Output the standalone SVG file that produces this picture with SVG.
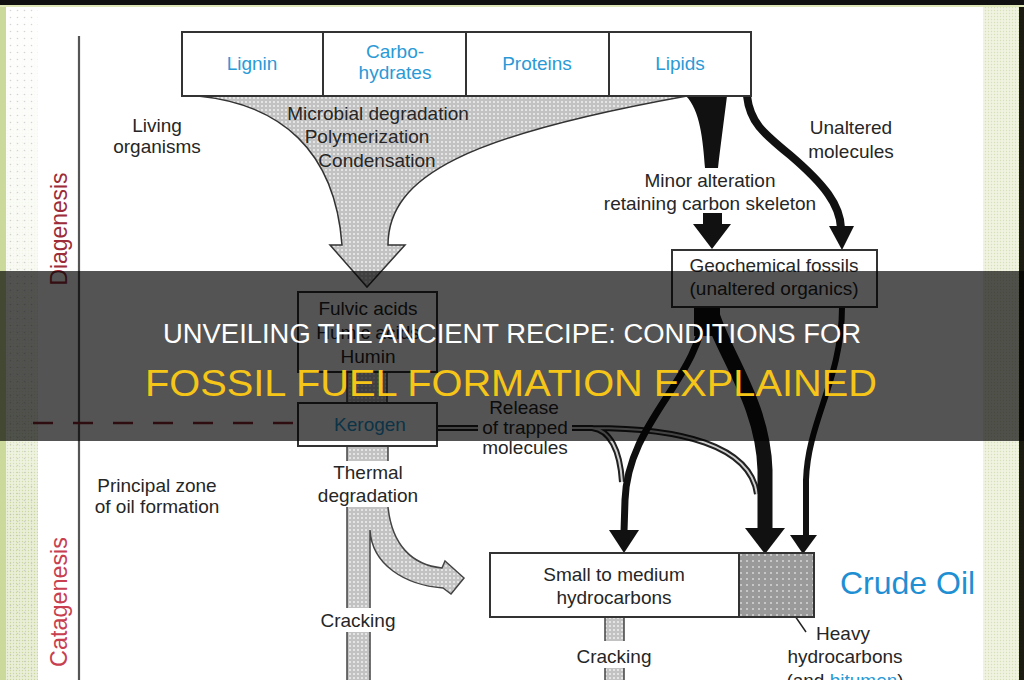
<svg xmlns="http://www.w3.org/2000/svg" width="1024" height="680" viewBox="0 0 1024 680">
<defs>
<pattern id="dots" width="4" height="4" patternUnits="userSpaceOnUse"><rect width="4" height="4" fill="#c2c2c2"/><circle cx="2" cy="2" r="1" fill="#f0f0f0"/></pattern>
<pattern id="dotsDark" width="6" height="6" patternUnits="userSpaceOnUse"><rect width="6" height="6" fill="#9a9a9a"/><circle cx="3" cy="3" r="1" fill="#d6d6d6"/></pattern>
<pattern id="edgeDots" width="7" height="7" patternUnits="userSpaceOnUse"><rect width="7" height="7" fill="none"/><circle cx="3.5" cy="3.5" r="0.8" fill="#b8b8b8"/></pattern>
<pattern id="greenDots" width="3" height="3" patternUnits="userSpaceOnUse"><rect width="3" height="3" fill="#e9efd6"/><circle cx="1.5" cy="1.5" r="0.7" fill="#c9d6a0"/></pattern>
<linearGradient id="leftFade" x1="0" y1="0" x2="0" y2="1"><stop offset="0" stop-color="#fff" stop-opacity="1"/><stop offset="0.55" stop-color="#fff" stop-opacity="0.6"/><stop offset="0.75" stop-color="#fff" stop-opacity="0"/></linearGradient>
</defs>
<style>
.t{font-family:"Liberation Sans",Arial,sans-serif;font-size:19px;fill:#262626;text-anchor:middle}
.b{fill:#2a9ad6}
.box{fill:#fff;stroke:#333;stroke-width:2}
.gray{fill:url(#dots);stroke:none}
.edge{fill:none;stroke:#444;stroke-width:1.5}
.blk{fill:none;stroke:#111;stroke-linecap:butt}
.head{fill:#111}
.tube{fill:none;stroke:#222;stroke-width:6}
.tubeIn{fill:none;stroke:#cfcfcf;stroke-width:2}
.stage{font-family:"Liberation Sans",Arial,sans-serif;font-size:24px;text-anchor:middle}
</style>
<rect x="0" y="0" width="1024" height="680" fill="#fff"/>

<!-- side strips -->
<g id="frame">
<rect x="0" y="0" width="38" height="680" fill="url(#greenDots)"/>
<rect x="0" y="0" width="38" height="680" fill="url(#leftFade)"/>
<rect x="6" y="0" width="32" height="680" fill="url(#edgeDots)" opacity="0.6"/>
<rect x="0" y="0" width="6" height="680" fill="#cbd99a"/>
<line x1="79" y1="36" x2="79" y2="680" stroke="#555" stroke-width="2.2"/>
</g>

<g id="stage-labels">
<text class="stage" transform="translate(67,229) rotate(-90)" fill="#9c2c38" textLength="113" lengthAdjust="spacingAndGlyphs">Diagenesis</text>
<text class="stage" transform="translate(67,602) rotate(-90)" fill="#c8404f" textLength="130" lengthAdjust="spacingAndGlyphs">Catagenesis</text>
<line x1="33" y1="423" x2="296" y2="423" stroke="#8b2a35" stroke-width="2.5" stroke-dasharray="20 20"/>
</g>

<g id="side-notes">
<text class="t" x="157" y="132">Living</text>
<text class="t" x="157" y="153">organisms</text>
<text class="t" x="157" y="492">Principal zone</text>
<text class="t" x="157" y="513">of oil formation</text>
</g>

<g id="connectors">
<!-- main gray funnel -->
<path d="M198,96 L687,96 C470,135 388,175 388,245 L405,245 L367,287 L330,245 L342,245 C335,150 280,104 198,96 Z" fill="url(#dots)" stroke="#333" stroke-width="1.5"/>
<!-- lipids black funnel -->
<path d="M686,96 L727,96 C724,120 720,150 718,168 L705,168 C703,140 700,110 686,96 Z" fill="#111"/>
<path d="M703,213 L722,213 L722,224 L731,224 L712,249 L693,224 L703,224 Z" fill="#111"/>
<!-- unaltered molecules -->
<path class="blk" d="M747,96 C750,122 762,132 790,155 C825,185 840,205 841,228" stroke-width="8"/>
<polygon class="head" points="829,226 854,226 842,250"/>
<!-- stems gray -->
<rect class="gray" x="347" y="372" width="40" height="31"/>
<path class="edge" d="M347,372 V403 M387,372 V403"/>
<rect class="gray" x="347" y="446" width="41" height="15"/>
<path class="edge" d="M347,446 V461 M388,446 V461"/>
<path class="gray" d="M347,507 L388,507 C392,545 412,565 442,568 L445,561 L464,578 L451,594 L443,588 C405,585 372,565 370,530 L370,608 L347,608 Z"/>
<path class="edge" d="M347,507 V608 M388,507 C392,545 412,565 442,568 L445,561 L464,578 L451,594 L443,588 C405,585 372,565 370,530 V608"/>
<rect class="gray" x="347" y="632" width="23" height="48"/>
<path class="edge" d="M347,632 V680 M370,632 V680"/>
<rect class="gray" x="605" y="617" width="19" height="24"/>
<path class="edge" d="M605,617 V641 M624,617 V641"/>
<rect class="gray" x="605" y="668" width="19" height="12"/>
<path class="edge" d="M605,668 V680 M624,668 V680"/>
<!-- release of trapped molecules tube -->
<path class="tube" d="M437,428 L478,428 M572,428 L592,428 C610,430 620,450 622,482 M592,428 C680,428 750,445 757,494"/>
<path class="tubeIn" d="M437,428 L478,428 M572,428 L592,428 C610,430 620,450 622,482 M592,428 C680,428 750,445 757,494"/>
<!-- from geochemical fossils -->
<rect x="694" y="306" width="26" height="30" fill="#111"/>
<path class="blk" d="M705,307 C700,380 628,420 625,500 L624,532" stroke-width="7"/>
<polygon class="head" points="609,530 639,530 624,553"/>
<path class="blk" d="M710,307 C720,350 763,400 765,470 L765,530" stroke-width="15"/>
<polygon class="head" points="745,528 785,528 765,554"/>
<path class="blk" d="M842,307 C842,380 808,420 806,480 L806,537" stroke-width="6"/>
<polygon class="head" points="790,535 817,535 803,554"/>
<!-- heavy leader -->
<line x1="784" y1="600" x2="806" y2="632" stroke="#222" stroke-width="1.5"/>
</g>

<g id="biomass">
<rect class="box" x="182" y="32" width="569" height="64"/>
<path d="M323,32 V96 M466,32 V96 M609,32 V96" stroke="#333" stroke-width="2"/>
<text class="t b" x="252" y="70">Lignin</text>
<text class="t b" x="395" y="58">Carbo-</text>
<text class="t b" x="395" y="79">hydrates</text>
<text class="t b" x="537" y="70">Proteins</text>
<text class="t b" x="680" y="70">Lipids</text>
</g>

<g id="process-labels">
<text class="t" x="378" y="120">Microbial degradation</text>
<text class="t" x="367" y="143">Polymerization</text>
<text class="t" x="377" y="167">Condensation</text>
<text class="t" x="851" y="134">Unaltered</text>
<text class="t" x="851" y="158">molecules</text>
<text class="t" x="710" y="187">Minor alteration</text>
<text class="t" x="710" y="210">retaining carbon skeleton</text>
<text class="t" x="368" y="479">Thermal</text>
<text class="t" x="368" y="502">degradation</text>
<text class="t" x="524" y="414">Release</text>
<text class="t" x="525" y="434">of trapped</text>
<text class="t" x="525" y="454">molecules</text>
<text class="t" x="358" y="627">Cracking</text>
<text class="t" x="614" y="663">Cracking</text>
</g>

<g id="geochemical-fossils">
<rect class="box" x="672" y="250" width="205" height="57"/>
<text class="t" x="774" y="272">Geochemical fossils</text>
<text class="t" x="774" y="295">(unaltered organics)</text>
</g>

<g id="humic">
<rect class="box" x="298" y="292" width="139" height="80"/>
<text class="t" x="368" y="315">Fulvic acids</text>
<text class="t" x="368" y="339">Humic acids</text>
<text class="t" x="368" y="363">Humin</text>
</g>

<g id="kerogen">
<rect class="box" x="298" y="403" width="139" height="43"/>
<text class="t b" x="370" y="431">Kerogen</text>
</g>

<g id="hydrocarbons">
<rect class="box" x="490" y="553" width="249" height="64"/>
<text class="t" x="614" y="581">Small to medium</text>
<text class="t" x="614" y="604">hydrocarbons</text>
</g>

<g id="heavy">
<rect x="739" y="553" width="75" height="64" fill="url(#dotsDark)" stroke="#333" stroke-width="2"/>
<text class="t" x="843" y="640">Heavy</text>
<text class="t" x="845" y="663">hydrocarbons</text>
<text class="t" x="845" y="687">(and <tspan class="b">bitumen</tspan>)</text>
</g>

<g id="crude-oil">
<text x="840" y="594" font-family="Liberation Sans, Arial, sans-serif" font-size="32" fill="#1f8fd4">Crude Oil</text>
</g>

<g id="right-frame">
<rect x="983" y="0" width="36" height="680" fill="url(#greenDots)" opacity="0.75"/>
<rect x="1019" y="0" width="5" height="680" fill="#1a1a10"/>
<rect x="0" y="0" width="1024" height="5" fill="#111"/>
<rect x="0" y="5" width="1024" height="2" fill="#dfe6b8"/>
</g>

<g id="title-banner">
<rect x="0" y="271" width="1024" height="170" fill="#000" fill-opacity="0.67"/>
<text x="512" y="343" font-family="Liberation Sans, Arial, sans-serif" font-size="27" fill="#fff" text-anchor="middle" textLength="698" lengthAdjust="spacingAndGlyphs">UNVEILING THE ANCIENT RECIPE: CONDITIONS FOR</text>
<text x="511" y="396" font-family="Liberation Sans, Arial, sans-serif" font-size="37" fill="#f5c518" text-anchor="middle" textLength="732" lengthAdjust="spacingAndGlyphs">FOSSIL FUEL FORMATION EXPLAINED</text>
</g>
</svg>
